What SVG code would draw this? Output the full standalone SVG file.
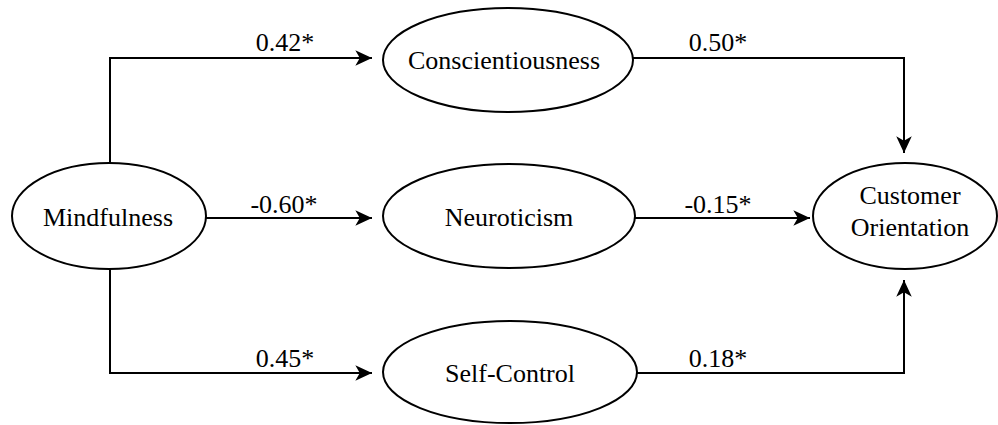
<svg xmlns="http://www.w3.org/2000/svg" width="998" height="425" viewBox="0 0 998 425" font-family="'Liberation Serif', 'Times New Roman', 'DejaVu Serif', serif">
<defs>
<marker id="arr" markerUnits="userSpaceOnUse" markerWidth="20" markerHeight="20" viewBox="-16 -8 18 16" refX="0" refY="0" orient="auto">
<path d="M-15,-7 L0,0 L-15,7 L-11,0 Z" fill="#000"/>
</marker>
<style>
.n{fill:#fff;stroke:#000;stroke-width:2}
.t{font-family:'Liberation Serif','Times New Roman',serif;font-size:26px;fill:#000;text-anchor:middle}
.c{fill:none;stroke:#000;stroke-width:2}
.a{marker-end:url(#arr)}
</style>
</defs>
<rect width="998" height="425" fill="#fff"/>
<g id="connectors">
<path class="c a" d="M110,163 V58 H372"/>
<path class="c a" d="M206,218 H372"/>
<path class="c a" d="M110,268 V373 H372"/>
<path class="c a" d="M633,58 H904 V153"/>
<path class="c a" d="M635,218 H810"/>
<path class="c a" d="M637,373 H904 V280"/>
<text class="t" x="285" y="51">0.42*</text>
<text class="t" x="284" y="213">-0.60*</text>
<text class="t" x="285" y="367">0.45*</text>
<text class="t" x="718" y="51">0.50*</text>
<text class="t" x="718" y="213">-0.15*</text>
<text class="t" x="718" y="367">0.18*</text>
</g>
<g id="mindfulness">
<ellipse class="n" cx="109" cy="216" rx="97" ry="53"/>
<text class="t" x="108" y="226">Mindfulness</text>
</g>
<g id="conscientiousness">
<ellipse class="n" cx="508" cy="60" rx="125" ry="52"/>
<text class="t" x="504" y="69">Conscientiousness</text>
</g>
<g id="neuroticism">
<ellipse class="n" cx="509" cy="216" rx="126" ry="52"/>
<text class="t" x="509" y="226">Neuroticism</text>
</g>
<g id="self-control">
<ellipse class="n" cx="510" cy="372" rx="127" ry="51"/>
<text class="t" x="510" y="382">Self-Control</text>
</g>
<g id="customer-orientation">
<ellipse class="n" cx="905" cy="216" rx="92" ry="53"/>
<text class="t" x="910" y="204">Customer</text>
<text class="t" x="910" y="236">Orientation</text>
</g>
</svg>
